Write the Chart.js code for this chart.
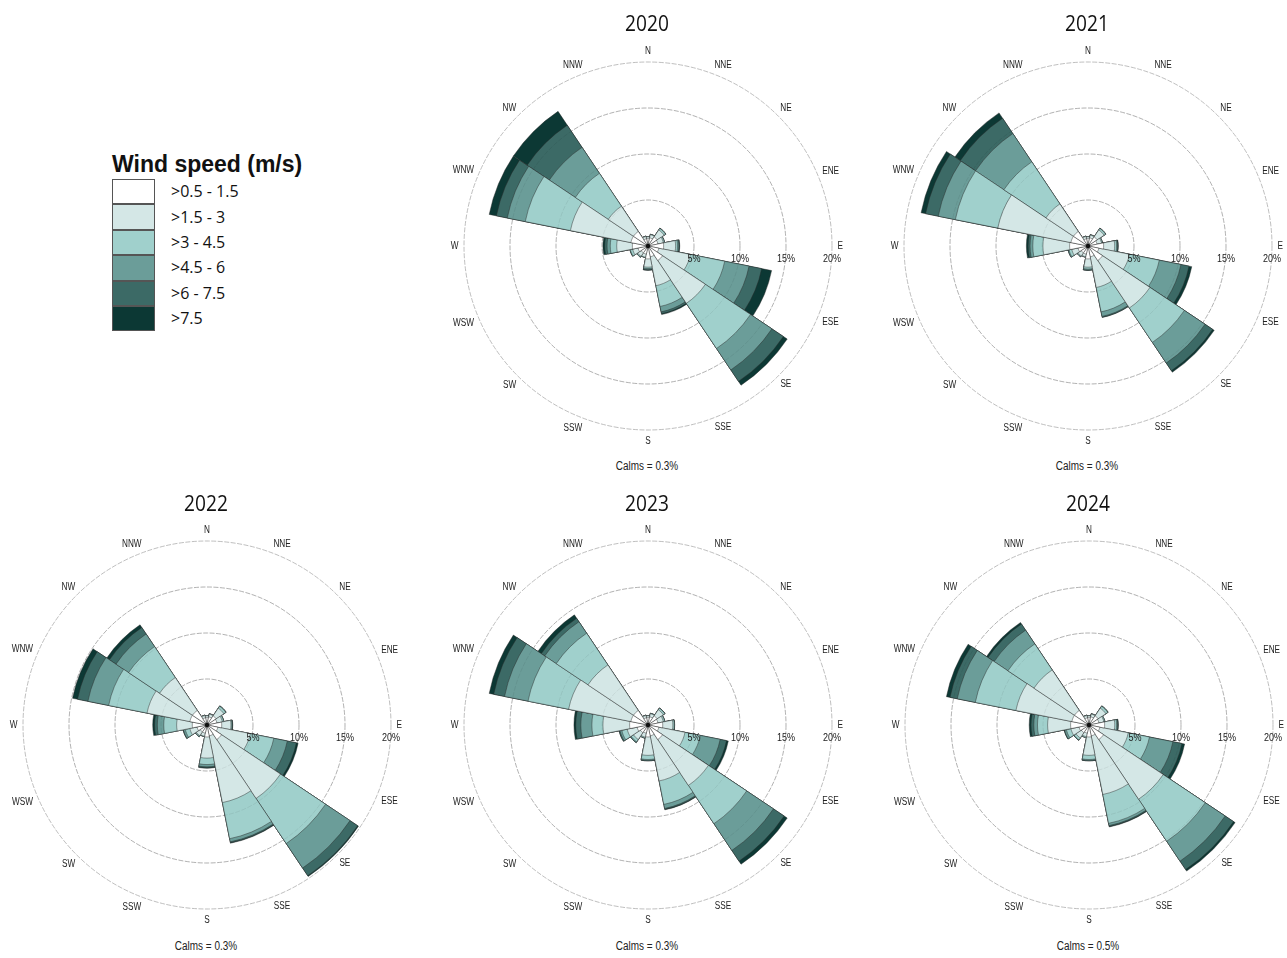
<!DOCTYPE html>
<html>
<head>
<meta charset="utf-8">
<script src="https://cdn.jsdelivr.net/npm/chart.js@4.4.1/dist/chart.umd.min.js"></script>
<style>
html,body{margin:0;padding:0;background:#fff;overflow:hidden;width:1287px;height:958px;}
.panel{position:absolute;width:420px;height:420px;}
.year{position:absolute;width:200px;margin-left:-100px;text-align:center;font-family:"Open Sans",sans-serif;font-size:22px;line-height:30px;color:#111;transform:scaleX(0.87);}
.calm{position:absolute;width:200px;margin-left:-100px;text-align:center;font-family:"Liberation Sans",Arial,sans-serif;font-size:12px;line-height:14px;color:#222;transform:scaleX(0.83);}
#legTitle{position:absolute;left:112px;top:151px;font-family:"Liberation Sans",Arial,sans-serif;font-weight:bold;font-size:23px;line-height:26px;color:#111;white-space:nowrap;}
.box{position:absolute;left:112px;width:43px;box-sizing:border-box;border:1px solid #555;}
.lab{position:absolute;left:171px;font-family:"Open Sans",sans-serif;font-size:16px;line-height:20px;color:#111;white-space:nowrap;}
</style>
</head>
<body>
<script>
// ---- data (percent frequency per direction; rows = speed bins, columns = directions) ----
const directions = ['N','NNE','NE','ENE','E','ESE','SE','SSE','S','SSW','SW','WSW','W','WNW','NW','NNW'];
const speedBins = ['>0.5 - 1.5','>1.5 - 3','>3 - 4.5','>4.5 - 6','>6 - 7.5','>7.5'];
const binColors = ['#ffffff','#d4e7e6','#a0d0cc','#6b9d99','#3c6a66','#0c3834'];
const years = ['2020','2021','2022','2023','2024'];
const calms = [0.3, 0.3, 0.3, 0.3, 0.5];
const tickValues = [5, 10, 15, 20];

const freq2020 = [
  [0.8,0.9,1.2,1.1,1.7,1.2,1.9,1.2,1.4,0.9,0.9,1.1,1.7,1.9,1.9,0.8],
  [0.2,0.35,0.9,0.6,1.3,3.5,5.6,3.2,0.9,0.35,0.45,0.6,1.7,6.7,3.3,0.25],
  [0.03,0.05,0.2,0.12,0.2,3.8,5.9,2.3,0.15,0.05,0.1,0.25,0.7,5.0,4.3,0.05],
  [0,0,0.03,0.03,0.15,2.7,2.8,0.6,0.1,0,0.02,0.05,0.35,2.0,3.4,0],
  [0,0,0,0,0.05,1.4,1.5,0.2,0.05,0,0,0,0.25,1.2,2.9,0],
  [0,0,0,0,0.05,1.1,0.5,0.1,0.05,0,0,0,0.2,0.8,1.8,0]
];
const freq2021 = [
  [0.8,0.9,1.2,1.0,1.7,1.2,1.9,1.2,1.4,0.9,0.9,1.1,2.0,1.9,1.9,0.8],
  [0.2,0.3,0.9,0.5,1.2,3.4,6.2,3.4,0.9,0.3,0.4,0.7,2.9,8.1,3.6,0.25],
  [0.03,0.05,0.2,0.1,0.2,3.3,4.5,2.7,0.2,0.05,0.1,0.3,1.1,4.7,5.5,0.05],
  [0,0,0.03,0.02,0.1,2.4,2.7,0.5,0.1,0,0.02,0.1,0.3,1.9,3.7,0],
  [0,0,0,0,0.05,0.9,1.0,0.1,0.05,0,0,0,0.2,1.4,2.0,0],
  [0,0,0,0,0.05,0.3,0.2,0.02,0,0,0,0,0.2,0.5,0.7,0]
];
const freq2022 = [
  [0.8,0.9,1.2,1.1,1.6,1.2,1.9,1.2,1.3,0.9,0.9,1.1,1.6,1.9,1.9,0.8],
  [0.2,0.3,1.0,0.6,1.0,3.6,7.7,7.4,2.3,0.35,0.5,0.8,1.7,4.75,4.3,0.25],
  [0.03,0.05,0.25,0.15,0.1,2.6,5.9,4.0,0.7,0.05,0.1,0.5,1.4,4.25,4.05,0.05],
  [0,0,0.05,0.03,0.05,1.5,3.2,0.35,0.25,0,0.02,0.2,0.7,2.3,1.65,0],
  [0,0,0,0,0.03,1.0,1.0,0.1,0.1,0,0,0.05,0.3,1.15,0.85,0],
  [0,0,0,0,0.02,0.2,0.1,0.05,0.05,0,0,0,0.2,0.55,0.35,0]
];
const freq2023 = [
  [0.8,0.9,1.2,1.1,1.6,1.2,1.9,1.2,1.3,0.9,1.0,1.2,2.0,1.9,1.9,0.8],
  [0.2,0.35,0.8,0.6,1.1,2.9,6.0,5.0,2.0,0.45,0.9,1.1,2.9,6.9,5.95,0.25],
  [0.03,0.05,0.2,0.15,0.15,1.7,5.0,2.6,0.45,0.1,0.3,0.6,1.2,4.5,4.15,0.05],
  [0,0,0.03,0.03,0.03,2.2,3.5,0.45,0.1,0.02,0.1,0.2,1.2,2.6,1.5,0],
  [0,0,0,0,0.01,0.7,1.4,0.1,0.05,0,0,0.1,0.55,1.2,0.45,0],
  [0,0,0,0,0.01,0.2,0.4,0.05,0,0,0,0,0.2,0.5,0.45,0]
];
const freq2024 = [
  [0.8,0.9,1.2,1.1,1.7,1.2,1.9,1.2,1.3,0.9,1.0,1.1,2.0,1.9,1.9,0.8],
  [0.2,0.3,1.0,0.55,1.1,3.15,7.8,6.5,2.0,0.4,0.7,0.9,2.5,6.2,5.3,0.25],
  [0.03,0.05,0.25,0.1,0.2,2.35,5.5,3.2,0.45,0.1,0.25,0.5,1.1,4.5,3.4,0.05],
  [0,0,0.05,0.02,0.1,2.6,2.6,0.25,0.1,0.02,0.05,0.2,0.4,2.0,1.8,0],
  [0,0,0,0,0.05,1.0,1.1,0.1,0.05,0,0,0.05,0.3,0.8,0.8,0],
  [0,0,0,0,0.05,0.3,0.2,0.05,0,0,0,0,0.2,0.4,0.2,0]
];
const yearFreqs = [freq2020, freq2021, freq2022, freq2023, freq2024];

// ---- layout ----
const centers = [[648,246],[1088,246],[207,725],[648,725],[1089,725]];
const titleTops = [7, 7, 487, 487, 487];
const calmTops = [459, 459, 939, 939, 939];
const FONT = '"Liberation Sans",Arial,sans-serif';
const SQUEEZE = 0.82;

function squeezedText(ctx, txt, x, y) {
  ctx.save();
  ctx.translate(x, y);
  ctx.scale(SQUEEZE, 1);
  ctx.fillText(txt, 0, 0);
  ctx.restore();
}

const roseDecor = {
  id: 'roseDecor',
  afterDatasetsDraw(chart) {
    const s = chart.scales.r;
    const ctx = chart.ctx;
    const cx = s.xCenter, cy = s.yCenter;
    ctx.save();
    ctx.strokeStyle = 'rgba(0,0,0,0.09)';
    ctx.lineWidth = 0.7;
    ctx.setLineDash([5, 1.5]);
    tickValues.slice(0, -1).forEach(v => {
      ctx.beginPath();
      ctx.arc(cx, cy, s.getDistanceFromCenterForValue(v), 0, Math.PI * 2);
      ctx.stroke();
    });
    ctx.setLineDash([]);
    ctx.fillStyle = '#111';
    ctx.beginPath();
    ctx.arc(cx, cy, 2.2, 0, Math.PI * 2);
    ctx.fill();
    ctx.fillStyle = '#222';
    ctx.textAlign = 'center';
    ctx.textBaseline = 'middle';
    ctx.font = '11px ' + FONT;
    tickValues.forEach(v => {
      squeezedText(ctx, v + '%', cx + s.getDistanceFromCenterForValue(v), cy + 12.5);
    });
    ctx.font = '10px ' + FONT;
    const R = s.getDistanceFromCenterForValue(s.max);
    const half = Math.PI / directions.length;
    directions.forEach((d, i) => {
      const bearing = s.getIndexAngle(i) + half;
      const w = ctx.measureText(d).width * SQUEEZE;
      const dist = R + 11 + (w / 2 - 5.5) * Math.abs(Math.sin(bearing));
      const p = s.getPointPosition(i, dist, half);
      squeezedText(ctx, d, p.x, p.y + 0.5);
    });
    ctx.restore();
  }
};

years.forEach((yr, k) => {
  const [cx, cy] = centers[k];
  const wrap = document.createElement('div');
  wrap.className = 'panel';
  wrap.style.left = (cx - 210) + 'px';
  wrap.style.top = (cy - 210) + 'px';
  const cv = document.createElement('canvas');
  cv.width = 420; cv.height = 420;
  wrap.appendChild(cv);
  document.body.appendChild(wrap);

  const t = document.createElement('div');
  t.className = 'year';
  t.textContent = yr;
  t.style.left = (cx - 1) + 'px';
  t.style.top = titleTops[k] + 'px';
  document.body.appendChild(t);

  const c = document.createElement('div');
  c.className = 'calm';
  c.textContent = 'Calms = ' + calms[k] + '%';
  c.style.left = (cx - 1) + 'px';
  c.style.top = calmTops[k] + 'px';
  document.body.appendChild(c);

  const rows = yearFreqs[k];
  const datasets = speedBins.map((bin, b) => ({
    label: bin,
    data: directions.map((_, i) => {
      let sum = 0;
      for (let j = 0; j <= b; j++) sum += rows[j][i];
      return sum;
    }),
    backgroundColor: binColors[b],
    borderColor: 'rgba(40,40,40,0.75)',
    borderWidth: 0.6
  }));

  new Chart(cv, {
    type: 'polarArea',
    data: { labels: directions, datasets },
    options: {
      responsive: false,
      devicePixelRatio: 1,
      animation: false,
      layout: { padding: 26 },
      plugins: { legend: { display: false }, tooltip: { enabled: false } },
      scales: {
        r: {
          min: 0, max: 20,
          startAngle: -11.25,
          ticks: { display: false, stepSize: 5 },
          pointLabels: { display: false },
          angleLines: { display: false },
          grid: { circular: true, color: '#a3a3a3', lineWidth: 0.7 },
          border: { dash: [5, 1.5] }
        }
      }
    },
    plugins: [roseDecor]
  });
});

// ---- legend ----
const lt = document.createElement('div');
lt.id = 'legTitle';
lt.textContent = 'Wind speed (m/s)';
document.body.appendChild(lt);
speedBins.forEach((bin, i) => {
  const top = 179 + i * 25.4;
  const b = document.createElement('div');
  b.className = 'box';
  b.style.top = top + 'px';
  b.style.height = '25.4px';
  b.style.background = binColors[i];
  document.body.appendChild(b);
  const l = document.createElement('div');
  l.className = 'lab';
  l.textContent = bin;
  l.style.top = (top + 12.7 - 10.5) + 'px';
  document.body.appendChild(l);
});
</script>
</body>
</html>
